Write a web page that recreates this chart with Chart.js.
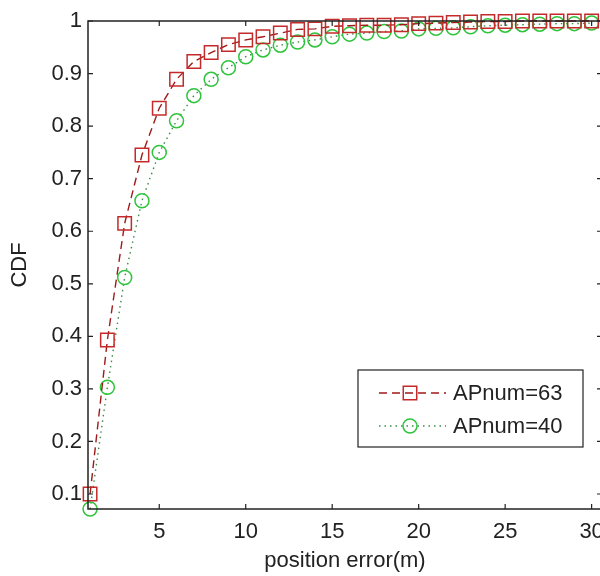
<!DOCTYPE html>
<html>
<head>
<meta charset="utf-8">
<script src="https://cdn.jsdelivr.net/npm/chart.js@4.4.1/dist/chart.umd.min.js"></script>
<style>
  html, body { margin: 0; padding: 0; overflow: hidden; background: #fff; }
  #cdfChart { display: block; }
</style>
</head>
<body>
<!-- wider than the window on purpose: the right edge of the axes box sits just off-screen -->
<canvas id="cdfChart" width="613" height="576"></canvas>
<script>
// position error (m) on the x axis
const errorMeters = [1, 2, 3, 4, 5, 6, 7, 8, 9, 10, 11, 12, 13, 14, 15,
                     16, 17, 18, 19, 20, 21, 22, 23, 24, 25, 26, 27, 28, 29, 30];
// CDF values
const cdfAP63 = [0.100, 0.393, 0.615, 0.745, 0.834, 0.889, 0.923, 0.940, 0.955, 0.964,
                 0.970, 0.977, 0.984, 0.985, 0.990, 0.991, 0.992, 0.992, 0.993, 0.995,
                 0.996, 0.997, 0.998, 0.999, 0.999, 1.000, 1.000, 1.000, 1.000, 1.000];
const cdfAP40 = [0.0715, 0.303, 0.512, 0.658, 0.750, 0.810, 0.858, 0.889, 0.911, 0.932,
                 0.945, 0.954, 0.960, 0.964, 0.970, 0.975, 0.977, 0.980, 0.981, 0.985,
                 0.986, 0.987, 0.989, 0.991, 0.992, 0.993, 0.994, 0.995, 0.995, 0.996];
const seriesNames = ['APnum=63', 'APnum=40'];
const xTicks = [5, 10, 15, 20, 25, 30];
const yTicks = [0.1, 0.2, 0.3, 0.4, 0.5, 0.6, 0.7, 0.8, 0.9, 1];
const yTickLabels = ['0.1', '0.2', '0.3', '0.4', '0.5', '0.6', '0.7', '0.8', '0.9', '1'];

const FONT = { family: '"Liberation Sans", Arial, sans-serif', size: 22 };
const INK = '#222';

// MATLAB-like box with inward ticks on all four sides
const matlabBox = {
    id: 'matlabBox',
    afterDatasetsDraw(chart) {
        const { ctx, chartArea: a, scales } = chart;
        const tl = 5;
        ctx.save();
        ctx.strokeStyle = INK;
        ctx.lineWidth = 1.5;
        ctx.setLineDash([]);
        ctx.strokeRect(a.left, a.top, a.right - a.left, a.bottom - a.top);
        ctx.lineWidth = 1.2;
        ctx.beginPath();
        scales.x.ticks.forEach(t => {
            const px = scales.x.getPixelForValue(t.value);
            ctx.moveTo(px, a.bottom); ctx.lineTo(px, a.bottom - tl);
            ctx.moveTo(px, a.top); ctx.lineTo(px, a.top + tl);
        });
        scales.y.ticks.forEach(t => {
            const py = scales.y.getPixelForValue(t.value);
            ctx.moveTo(a.left, py); ctx.lineTo(a.left + tl, py);
            ctx.moveTo(a.right, py); ctx.lineTo(a.right - tl, py);
        });
        ctx.stroke();
        ctx.restore();
    }
};

// legend box inside the plot, lower right
const boxLegend = {
    id: 'boxLegend',
    afterDraw(chart) {
        const { ctx, chartArea: a } = chart;
        const left = a.right - 244, top = a.bottom - 139, w = 225, h = 77;
        ctx.save();
        ctx.fillStyle = '#fff';
        ctx.fillRect(left, top, w, h);
        ctx.strokeStyle = INK;
        ctx.lineWidth = 1.2;
        ctx.setLineDash([]);
        ctx.strokeRect(left, top, w, h);
        chart.data.datasets.forEach((ds, i) => {
            const y = top + 23 + i * 33;
            ctx.strokeStyle = ds.borderColor;
            ctx.lineWidth = ds.borderWidth;
            ctx.setLineDash(ds.borderDash);
            ctx.beginPath();
            ctx.moveTo(left + 21, y);
            ctx.lineTo(left + 88, y);
            ctx.stroke();
            ctx.setLineDash([]);
            ctx.strokeStyle = ds.pointBorderColor;
            ctx.lineWidth = ds.pointBorderWidth;
            const mx = left + 52;
            ctx.beginPath();
            if (ds.pointStyle === 'rect') {
                const s = Math.SQRT1_2 * ds.pointRadius;
                ctx.rect(mx - s, y - s, 2 * s, 2 * s);
            } else {
                ctx.arc(mx, y, ds.pointRadius, 0, Math.PI * 2);
            }
            ctx.stroke();
            ctx.fillStyle = INK;
            ctx.font = FONT.size + 'px ' + FONT.family;
            ctx.textAlign = 'left';
            ctx.textBaseline = 'middle';
            ctx.fillText(ds.label, left + 95, y + 1);
        });
        ctx.restore();
    }
};

const ctx = document.getElementById('cdfChart').getContext('2d');
new Chart(ctx, {
    type: 'line',
    data: {
        datasets: [{
            label: seriesNames[0],
            data: errorMeters.map((x, i) => ({ x: x, y: cdfAP63[i] })),
            borderColor: '#a01a1a',
            borderWidth: 1.4,
            borderDash: [8, 5],
            pointStyle: 'rect',
            pointRadius: 9.5,
            pointBorderColor: '#c42a2a',
            pointBorderWidth: 1.5,
            pointBackgroundColor: 'rgba(0,0,0,0)',
            tension: 0,
            clip: false
        }, {
            label: seriesNames[1],
            data: errorMeters.map((x, i) => ({ x: x, y: cdfAP40[i] })),
            borderColor: '#3d8a4a',
            borderWidth: 1.4,
            borderDash: [1.5, 4],
            pointStyle: 'circle',
            pointRadius: 7,
            pointBorderColor: '#2ec43c',
            pointBorderWidth: 1.5,
            pointBackgroundColor: 'rgba(0,0,0,0)',
            tension: 0,
            clip: false
        }]
    },
    options: {
        responsive: false,
        animation: false,
        layout: { padding: { top: 21, right: 4, left: 0, bottom: 0 } },
        scales: {
            x: {
                type: 'linear',
                min: 0.88,
                max: 30.6,
                afterBuildTicks: scale => { scale.ticks = xTicks.map(v => ({ value: v })); },
                afterFit: scale => {
                    scale.height = 67;
                    scale.paddingLeft = 0;
                    scale.paddingRight = 0;
                },
                grid: { display: false, drawTicks: false, tickLength: 0 },
                border: { display: false },
                ticks: {
                    color: INK,
                    font: FONT,
                    padding: 10,
                    maxRotation: 0,
                    autoSkip: false,
                    callback: v => String(v)
                },
                title: {
                    display: true,
                    text: 'position error(m)',
                    color: INK,
                    font: FONT,
                    padding: { top: 0, bottom: 2 }
                }
            },
            y: {
                type: 'linear',
                min: 0.0715,
                max: 1,
                afterBuildTicks: scale => { scale.ticks = yTicks.map(v => ({ value: v })); },
                afterFit: scale => { scale.width = 88; },
                grid: { display: false, drawTicks: false, tickLength: 0 },
                border: { display: false },
                ticks: {
                    color: INK,
                    font: FONT,
                    padding: 6,
                    autoSkip: false,
                    callback: v => yTickLabels[yTicks.indexOf(v)] ?? ''
                },
                title: {
                    display: true,
                    text: 'CDF',
                    color: INK,
                    font: FONT,
                    padding: { top: 7, bottom: 0 }
                }
            }
        },
        plugins: {
            legend: { display: false },
            tooltip: { enabled: false }
        }
    },
    plugins: [matlabBox, boxLegend]
});
</script>
</body>
</html>
